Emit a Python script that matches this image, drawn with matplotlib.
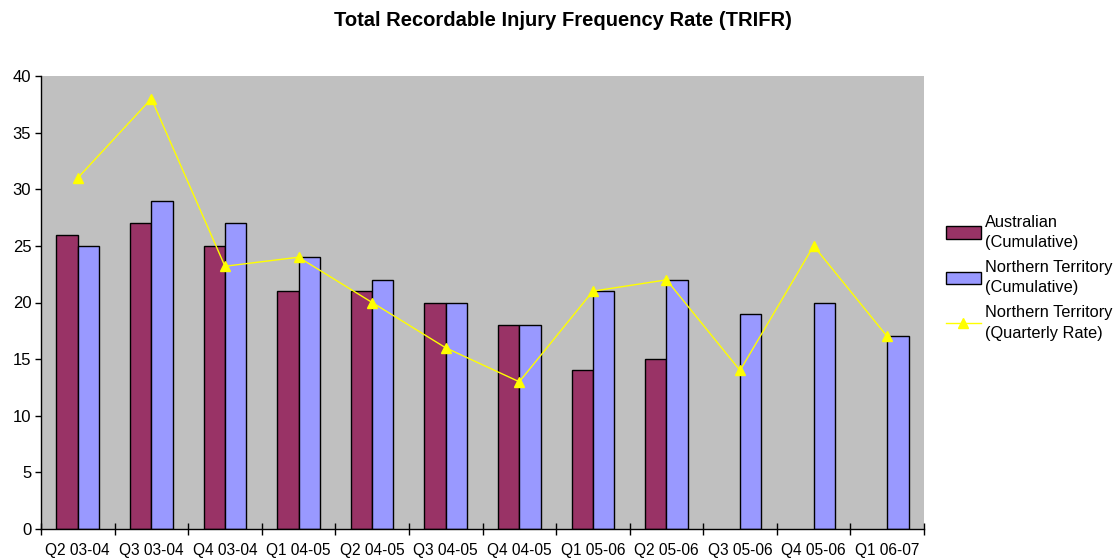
import numpy as np
import matplotlib
matplotlib.use("Agg")
import matplotlib.pyplot as plt

categories = ["Q2 03-04", "Q3 03-04", "Q4 03-04", "Q1 04-05", "Q2 04-05", "Q3 04-05",
              "Q4 04-05", "Q1 05-06", "Q2 05-06", "Q3 05-06", "Q4 05-06", "Q1 06-07"]
australian_cum = [26, 27, 25, 21, 21, 20, 18, 14, 15, np.nan, np.nan, np.nan]
nt_cum = [25, 29, 27, 24, 22, 20, 18, 21, 22, 19, 20, 17]
nt_quarterly = [31, 38, 23.2, 24, 20, 16, 13, 21, 22, 14, 25, 17]

plt.rcParams['font.family'] = ['Liberation Sans', 'DejaVu Sans']

fig = plt.figure(figsize=(11.19, 5.59), dpi=100)
ax = fig.add_axes([41/1119, 30/559, (924-41)/1119, (529-76)/559])
ax.set_facecolor('#C0C0C0')

x = np.arange(len(categories))
w = 0.29
b1 = ax.bar(x - w/2, australian_cum, width=w, color='#993366', edgecolor='black', linewidth=1,
            label='Australian\n(Cumulative)', zorder=2)
b2 = ax.bar(x + w/2, nt_cum, width=w, color='#9999FF', edgecolor='black', linewidth=1,
            label='Northern Territory\n(Cumulative)', zorder=2)
l1, = ax.plot(x, nt_quarterly, color='#FFFF00', linewidth=1, marker='^', markersize=7,
              label='Northern Territory\n(Quarterly Rate)', zorder=3)

ax.set_xlim(-0.5, len(categories) - 0.5)
ax.set_ylim(0, 40)
ax.set_yticks(range(0, 41, 5))
ax.set_xticks(x)
ax.set_xticklabels(categories, fontsize=11.2)
ax.tick_params(axis='x', length=0, pad=10)
ax.set_xticks(np.arange(-0.5, len(categories), 1), minor=True)
ax.tick_params(axis='x', which='minor', length=8, direction='inout', width=1)
ax.tick_params(axis='y', labelsize=12, length=4, direction='out', width=1, pad=3)
for s in ['top', 'right']:
    ax.spines[s].set_visible(False)
ax.spines['left'].set_linewidth(1)
ax.spines['bottom'].set_linewidth(1)

fig.text(563/1119, 1 - 20/559, 'Total Recordable Injury Frequency Rate (TRIFR)',
         ha='center', va='center', fontsize=14.5, fontweight='bold')

leg = fig.legend(handles=[b1, b2, l1], loc='upper left',
                 bbox_to_anchor=(931/1119, 1 - 200/559), frameon=False,
                 fontsize=11.8, handlelength=2.15, handleheight=0.8, labelspacing=0.6,
                 handletextpad=0.25)
for t in leg.get_texts():
    t.set_linespacing(1.45)

fig.savefig('out.png', dpi=100)
